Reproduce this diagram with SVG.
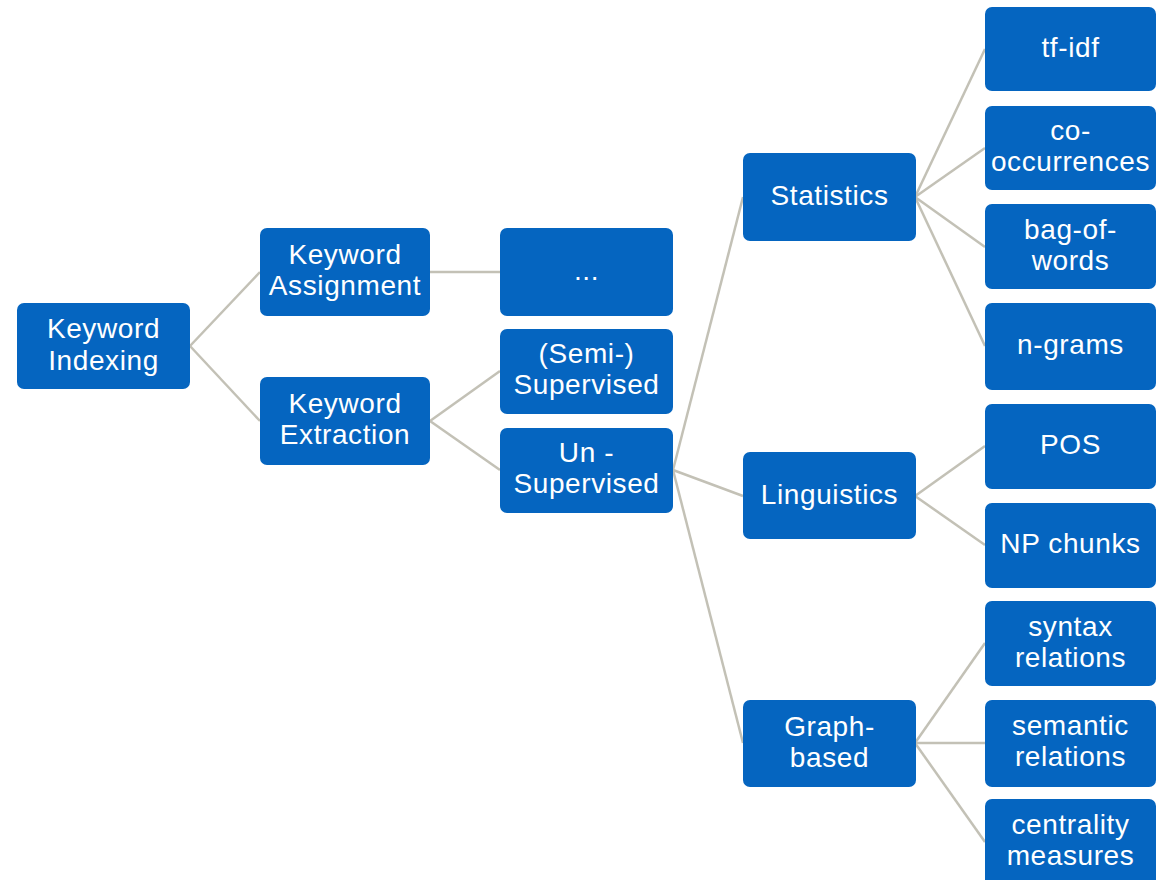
<svg xmlns="http://www.w3.org/2000/svg" width="1165" height="880" viewBox="0 0 1165 880">
  <style>
    .box { fill: #0565C0; }
    .lbl { fill: #ffffff; font-family: "Liberation Sans", Arial, sans-serif; font-size: 28px; letter-spacing: 0.6px; text-anchor: middle; }
    .edge { stroke: #C3C1B6; stroke-width: 2.5; fill: none; }
  </style>
  <rect width="1165" height="880" fill="#ffffff"/>

  <!-- connectors: parent right-middle to child left-middle -->
  <g id="connectors">
    <line class="edge" x1="190" y1="346" x2="260" y2="272"/>
    <line class="edge" x1="190" y1="346" x2="260" y2="421"/>
    <line class="edge" x1="430" y1="272" x2="500" y2="272"/>
    <line class="edge" x1="430" y1="421" x2="500" y2="371"/>
    <line class="edge" x1="430" y1="421" x2="500" y2="470"/>
    <line class="edge" x1="673" y1="470" x2="743" y2="197"/>
    <line class="edge" x1="673" y1="470" x2="743" y2="496"/>
    <line class="edge" x1="673" y1="470" x2="743" y2="743"/>
    <line class="edge" x1="915" y1="197" x2="985" y2="49"/>
    <line class="edge" x1="915" y1="197" x2="985" y2="148"/>
    <line class="edge" x1="915" y1="197" x2="985" y2="247"/>
    <line class="edge" x1="915" y1="197" x2="985" y2="346"/>
    <line class="edge" x1="915" y1="496" x2="985" y2="446"/>
    <line class="edge" x1="915" y1="496" x2="985" y2="545"/>
    <line class="edge" x1="915" y1="743" x2="985" y2="643"/>
    <line class="edge" x1="915" y1="743" x2="985" y2="743"/>
    <line class="edge" x1="915" y1="743" x2="985" y2="842"/>
  </g>

  <g id="keyword-indexing">
    <rect class="box" x="17" y="303" width="173" height="86" rx="7"/>
    <text class="lbl" x="103.5" y="338">Keyword</text>
    <text class="lbl" x="103.5" y="370">Indexing</text>
  </g>
  <g id="keyword-assignment">
    <rect class="box" x="260" y="228" width="170" height="88" rx="7"/>
    <text class="lbl" x="345" y="264">Keyword</text>
    <text class="lbl" x="345" y="295">Assignment</text>
  </g>
  <g id="keyword-extraction">
    <rect class="box" x="260" y="377" width="170" height="88" rx="7"/>
    <text class="lbl" x="345" y="413">Keyword</text>
    <text class="lbl" x="345" y="444">Extraction</text>
  </g>
  <g id="ellipsis">
    <rect class="box" x="500" y="228" width="173" height="88" rx="7"/>
    <text class="lbl" x="586.5" y="280">...</text>
  </g>
  <g id="semi-supervised">
    <rect class="box" x="500" y="329" width="173" height="85" rx="7"/>
    <text class="lbl" x="586.5" y="363">(Semi-)</text>
    <text class="lbl" x="586.5" y="394">Supervised</text>
  </g>
  <g id="un-supervised">
    <rect class="box" x="500" y="428" width="173" height="85" rx="7"/>
    <text class="lbl" x="586.5" y="462">Un -</text>
    <text class="lbl" x="586.5" y="493">Supervised</text>
  </g>
  <g id="statistics">
    <rect class="box" x="743" y="153" width="173" height="88" rx="7"/>
    <text class="lbl" x="829.5" y="205">Statistics</text>
  </g>
  <g id="linguistics">
    <rect class="box" x="743" y="452" width="173" height="87" rx="7"/>
    <text class="lbl" x="829.5" y="504">Linguistics</text>
  </g>
  <g id="graph-based">
    <rect class="box" x="743" y="700" width="173" height="87" rx="7"/>
    <text class="lbl" x="829.5" y="736">Graph-</text>
    <text class="lbl" x="829.5" y="767">based</text>
  </g>
  <g id="tf-idf">
    <rect class="box" x="985" y="7" width="171" height="84" rx="7"/>
    <text class="lbl" x="1070.5" y="57">tf-idf</text>
  </g>
  <g id="co-occurrences">
    <rect class="box" x="985" y="106" width="171" height="84" rx="7"/>
    <text class="lbl" x="1070.5" y="140">co-</text>
    <text class="lbl" x="1070.5" y="171">occurrences</text>
  </g>
  <g id="bag-of-words">
    <rect class="box" x="985" y="204" width="171" height="85" rx="7"/>
    <text class="lbl" x="1070.5" y="239">bag-of-</text>
    <text class="lbl" x="1070.5" y="270">words</text>
  </g>
  <g id="n-grams">
    <rect class="box" x="985" y="303" width="171" height="87" rx="7"/>
    <text class="lbl" x="1070.5" y="354">n-grams</text>
  </g>
  <g id="pos">
    <rect class="box" x="985" y="404" width="171" height="85" rx="7"/>
    <text class="lbl" x="1070.5" y="454">POS</text>
  </g>
  <g id="np-chunks">
    <rect class="box" x="985" y="503" width="171" height="85" rx="7"/>
    <text class="lbl" x="1070.5" y="553">NP chunks</text>
  </g>
  <g id="syntax-relations">
    <rect class="box" x="985" y="601" width="171" height="85" rx="7"/>
    <text class="lbl" x="1070.5" y="636">syntax</text>
    <text class="lbl" x="1070.5" y="667">relations</text>
  </g>
  <g id="semantic-relations">
    <rect class="box" x="985" y="700" width="171" height="87" rx="7"/>
    <text class="lbl" x="1070.5" y="735">semantic</text>
    <text class="lbl" x="1070.5" y="766">relations</text>
  </g>
  <g id="centrality-measures">
    <rect class="box" x="985" y="799" width="171" height="87" rx="7"/>
    <text class="lbl" x="1070.5" y="834">centrality</text>
    <text class="lbl" x="1070.5" y="865">measures</text>
  </g>
</svg>
